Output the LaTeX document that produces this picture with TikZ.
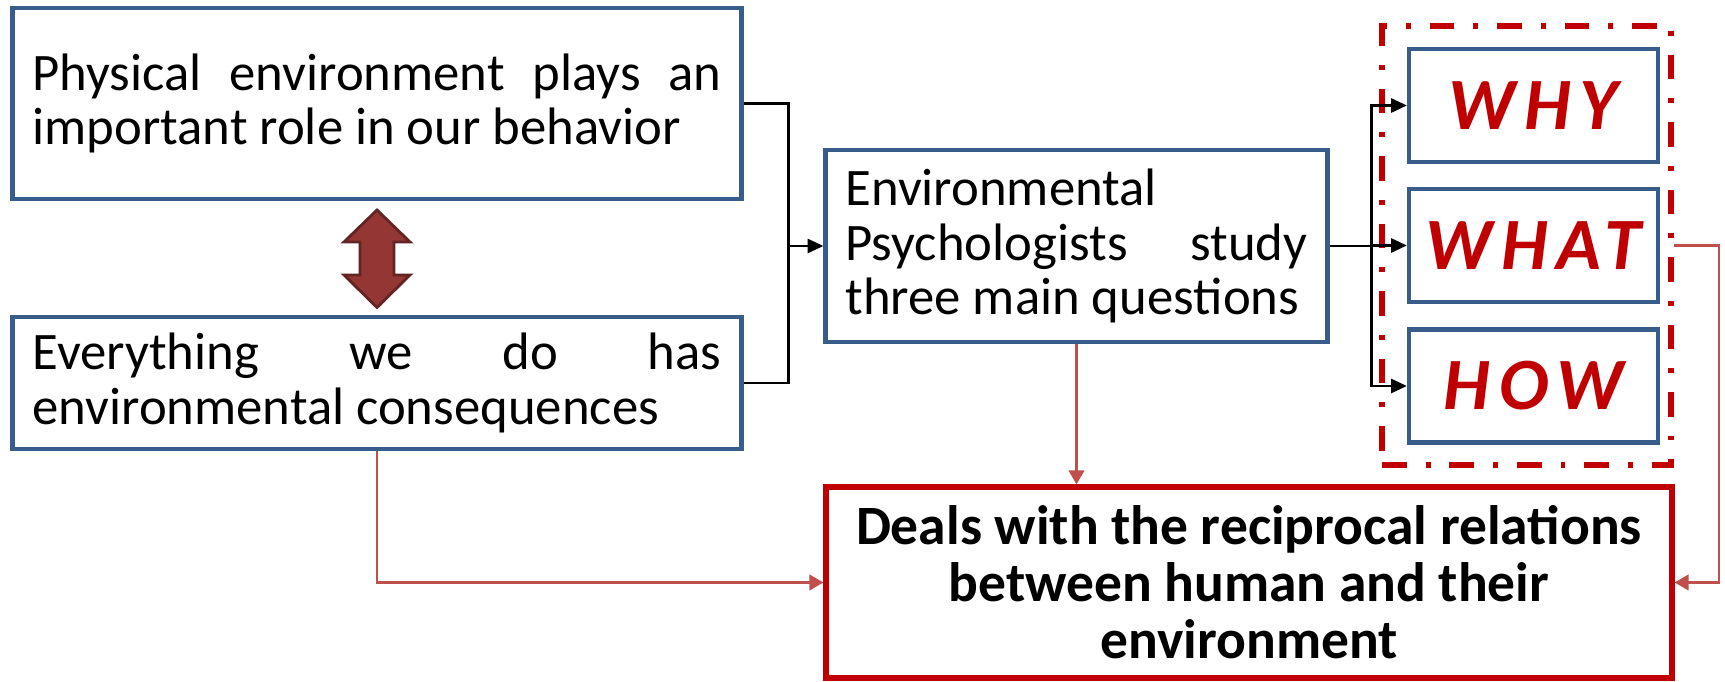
\documentclass[tikz,border=0pt]{standalone}
\usepackage{fontspec}
\setmainfont{Carlito}
\newfontfamily\spacedfont[LetterSpace=12]{Carlito}
\usepackage{xcolor}
\usetikzlibrary{arrows.meta,positioning}

\definecolor{boxblue}{HTML}{385D8A}
\definecolor{qred}{HTML}{C00000}
\definecolor{linkred}{HTML}{C0504D}
\definecolor{arrowfill}{HTML}{943634}
\definecolor{arrowdark}{HTML}{632523}

\hyphenpenalty=10000
\tolerance=10000

\begin{document}
\begin{tikzpicture}[
  >=Stealth,
  textbox/.style={draw=boxblue, line width=1.2pt, inner xsep=0.2cm, inner ysep=0pt,
               align=justify, font=\fontsize{15}{15.6}\selectfont, anchor=center},
  qbox/.style={draw=boxblue, line width=1.2pt, minimum width=2.49cm, minimum height=1.13cm,
               inner sep=0pt, text=qred, font=\spacedfont\fontsize{21}{24}\selectfont\bfseries\itshape},
  qframe/.style={draw=qred, line width=1.7pt, dash pattern=on 7pt off 5.4pt on 1.4pt off 5.4pt,
               minimum width=2.89cm, minimum height=4.39cm, inner sep=0pt},
  link/.style={line width=0.75pt},
  redlink/.style={line width=0.6pt, draw=linkred, -{Triangle[length=4pt,width=4.5pt]}},
]
\useasboundingbox (0,0) rectangle (17.25,-6.82);

% === Left boxes ===
\node[textbox, text width=6.89cm, minimum height=1.91cm] (phys) at (3.77,-1.035)
  {Physical environment plays an important role in our behavior};
\node[textbox, text width=6.89cm, minimum height=1.32cm] (every) at (3.77,-3.83)
  {Everything we do has environmental consequences};

% === Double arrow between them ===
\coordinate (link) at (3.77,-2.585);
\filldraw[fill=arrowfill, draw=arrowdark, line width=0.8pt]
  (link) ++(0,0.485) -- ++(0.33,-0.32) -- ++(-0.16,0) -- ++(0,-0.33) -- ++(0.16,0)
  -- ++(-0.33,-0.325) -- ++(-0.33,0.325) -- ++(0.16,0) -- ++(0,0.33) -- ++(-0.16,0) -- cycle;

% === Middle box ===
\node[textbox, text width=4.62cm, minimum height=1.92cm] (envpsy) at (10.765,-2.46)
  {Environmental\\ Psychologists study three main questions};

% === Questions ===
\node[qframe] (qframe) at (15.265,-2.455) {};
\foreach \q/\y/\lab in {why/-1.055/WHY, what/-2.455/WHAT, how/-3.86/HOW} {
  \node[qbox] (\q) at (15.335,\y) {\lab};
}

% === Result box ===
\node[draw=qred, line width=1.5pt, minimum width=8.46cm, minimum height=1.91cm, inner sep=0pt,
      align=center, font=\fontsize{15.8}{16.2}\selectfont\bfseries] (deals) at (12.49,-5.825)
  {Deals with the reciprocal relations\\ between human and their\\ environment};

% === Black connectors ===
\coordinate[left=0.35cm of envpsy.west] (jl);
\coordinate[right=0.42cm of envpsy.east] (jr);
\draw[link] (phys.east) -| (jl) |- (every.east);
\draw[link, -{Triangle[length=4.5pt,width=4pt]}] (jl) -- (envpsy.west);
\draw[link] (envpsy.east) -- (jr);
\foreach \q in {why, what, how} {
  \draw[link, -{Triangle[length=4.5pt,width=4pt]}] (jr) |- (\q.west);
}

% === Red connectors ===
\coordinate (rbus) at (17.19,-2.455);
\draw[redlink] (every.south) |- (deals.west);
\draw[redlink] (envpsy.south) -- (envpsy.south |- deals.north);
\draw[redlink] (qframe.east |- what.east) -- (rbus) |- (deals.east);

\end{tikzpicture}
\end{document}
